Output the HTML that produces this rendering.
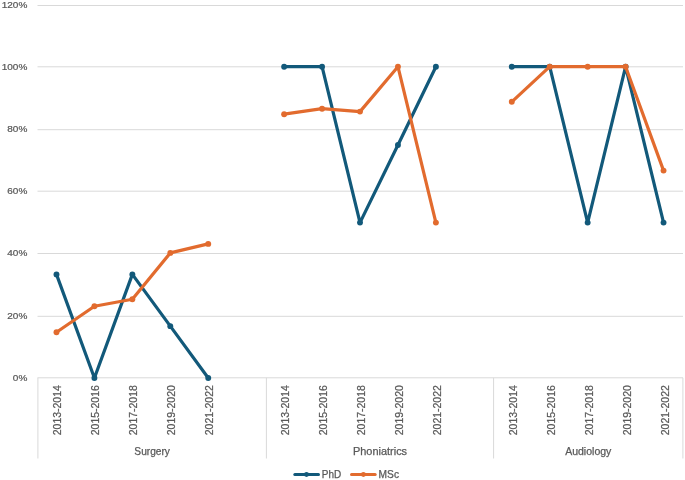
<!DOCTYPE html>
<html><head><meta charset="utf-8"><title>Chart</title>
<style>
html,body{margin:0;padding:0;background:#fff;}
body{width:685px;height:480px;overflow:hidden;}
svg{display:block;filter:blur(0.35px);}
text{font-family:'Liberation Sans', Arial, sans-serif;stroke:#595959;stroke-width:0.25px;}
</style></head><body>
<svg width="685" height="480" viewBox="0 0 685 480">
<rect width="685" height="480" fill="#fff"/>
<line x1="37.5" y1="377.80" x2="683" y2="377.80" stroke="#D9D9D9" stroke-width="1"/>
<line x1="37.5" y1="316.30" x2="683" y2="316.30" stroke="#D9D9D9" stroke-width="1"/>
<line x1="37.5" y1="253.50" x2="683" y2="253.50" stroke="#D9D9D9" stroke-width="1"/>
<line x1="37.5" y1="191.20" x2="683" y2="191.20" stroke="#D9D9D9" stroke-width="1"/>
<line x1="37.5" y1="129.70" x2="683" y2="129.70" stroke="#D9D9D9" stroke-width="1"/>
<line x1="37.5" y1="66.80" x2="683" y2="66.80" stroke="#D9D9D9" stroke-width="1"/>
<line x1="37.5" y1="5.50" x2="683" y2="5.50" stroke="#D9D9D9" stroke-width="1"/>
<line x1="37.90" y1="377.8" x2="37.90" y2="458.5" stroke="#D9D9D9" stroke-width="1"/>
<line x1="266.40" y1="377.8" x2="266.40" y2="458.5" stroke="#D9D9D9" stroke-width="1"/>
<line x1="493.60" y1="377.8" x2="493.60" y2="458.5" stroke="#D9D9D9" stroke-width="1"/>
<line x1="682.90" y1="377.8" x2="682.90" y2="458.5" stroke="#D9D9D9" stroke-width="1"/>
<text transform="translate(27.3,380.69) scale(1,0.92)" text-anchor="end" font-size="10.0" fill="#595959">0%</text>
<text transform="translate(27.3,318.56) scale(1,0.92)" text-anchor="end" font-size="10.0" fill="#595959">20%</text>
<text transform="translate(27.3,256.43) scale(1,0.92)" text-anchor="end" font-size="10.0" fill="#595959">40%</text>
<text transform="translate(27.3,194.29) scale(1,0.92)" text-anchor="end" font-size="10.0" fill="#595959">60%</text>
<text transform="translate(27.3,132.16) scale(1,0.92)" text-anchor="end" font-size="10.0" fill="#595959">80%</text>
<text transform="translate(27.3,70.03) scale(1,0.92)" text-anchor="end" font-size="10.0" fill="#595959">100%</text>
<text transform="translate(27.3,7.90) scale(1,0.92)" text-anchor="end" font-size="10.0" fill="#595959">120%</text>
<text transform="translate(60.77,385.2) rotate(-90) scale(1,0.97)" text-anchor="end" font-size="10.6" fill="#595959" textLength="50.0" lengthAdjust="spacingAndGlyphs">2013-2014</text>
<text transform="translate(98.72,385.2) rotate(-90) scale(1,0.97)" text-anchor="end" font-size="10.6" fill="#595959" textLength="50.0" lengthAdjust="spacingAndGlyphs">2015-2016</text>
<text transform="translate(136.66,385.2) rotate(-90) scale(1,0.97)" text-anchor="end" font-size="10.6" fill="#595959" textLength="50.0" lengthAdjust="spacingAndGlyphs">2017-2018</text>
<text transform="translate(174.60,385.2) rotate(-90) scale(1,0.97)" text-anchor="end" font-size="10.6" fill="#595959" textLength="50.0" lengthAdjust="spacingAndGlyphs">2019-2020</text>
<text transform="translate(212.54,385.2) rotate(-90) scale(1,0.97)" text-anchor="end" font-size="10.6" fill="#595959" textLength="50.0" lengthAdjust="spacingAndGlyphs">2021-2022</text>
<text transform="translate(289.23,385.2) rotate(-90) scale(1,0.97)" text-anchor="end" font-size="10.6" fill="#595959" textLength="50.0" lengthAdjust="spacingAndGlyphs">2013-2014</text>
<text transform="translate(327.17,385.2) rotate(-90) scale(1,0.97)" text-anchor="end" font-size="10.6" fill="#595959" textLength="50.0" lengthAdjust="spacingAndGlyphs">2015-2016</text>
<text transform="translate(365.11,385.2) rotate(-90) scale(1,0.97)" text-anchor="end" font-size="10.6" fill="#595959" textLength="50.0" lengthAdjust="spacingAndGlyphs">2017-2018</text>
<text transform="translate(403.05,385.2) rotate(-90) scale(1,0.97)" text-anchor="end" font-size="10.6" fill="#595959" textLength="50.0" lengthAdjust="spacingAndGlyphs">2019-2020</text>
<text transform="translate(441.00,385.2) rotate(-90) scale(1,0.97)" text-anchor="end" font-size="10.6" fill="#595959" textLength="50.0" lengthAdjust="spacingAndGlyphs">2021-2022</text>
<text transform="translate(516.78,385.2) rotate(-90) scale(1,0.97)" text-anchor="end" font-size="10.6" fill="#595959" textLength="50.0" lengthAdjust="spacingAndGlyphs">2013-2014</text>
<text transform="translate(554.72,385.2) rotate(-90) scale(1,0.97)" text-anchor="end" font-size="10.6" fill="#595959" textLength="50.0" lengthAdjust="spacingAndGlyphs">2015-2016</text>
<text transform="translate(592.66,385.2) rotate(-90) scale(1,0.97)" text-anchor="end" font-size="10.6" fill="#595959" textLength="50.0" lengthAdjust="spacingAndGlyphs">2017-2018</text>
<text transform="translate(630.61,385.2) rotate(-90) scale(1,0.97)" text-anchor="end" font-size="10.6" fill="#595959" textLength="50.0" lengthAdjust="spacingAndGlyphs">2019-2020</text>
<text transform="translate(668.55,385.2) rotate(-90) scale(1,0.97)" text-anchor="end" font-size="10.6" fill="#595959" textLength="50.0" lengthAdjust="spacingAndGlyphs">2021-2022</text>
<text transform="translate(152.15,455.0)" text-anchor="middle" font-size="10.2" fill="#595959" textLength="35.6" lengthAdjust="spacingAndGlyphs">Surgery</text>
<text transform="translate(380.00,455.0)" text-anchor="middle" font-size="10.2" fill="#595959" textLength="54.2" lengthAdjust="spacingAndGlyphs">Phoniatrics</text>
<text transform="translate(588.25,455.0)" text-anchor="middle" font-size="10.2" fill="#595959" textLength="46.2" lengthAdjust="spacingAndGlyphs">Audiology</text>
<polyline points="56.48,274.39 94.42,377.94 132.36,274.39 170.30,326.16 208.24,377.94" fill="none" stroke="#12597a" stroke-width="3.2" stroke-linejoin="round" stroke-linecap="round"/>
<polyline points="284.13,66.70 322.07,66.70 360.01,222.61 397.95,144.95 435.90,66.70" fill="none" stroke="#12597a" stroke-width="3.2" stroke-linejoin="round" stroke-linecap="round"/>
<polyline points="511.78,66.70 549.72,66.70 587.66,222.61 625.61,66.70 663.55,222.61" fill="none" stroke="#12597a" stroke-width="3.2" stroke-linejoin="round" stroke-linecap="round"/>
<circle cx="56.48" cy="274.39" r="2.95" fill="#12597a"/>
<circle cx="94.42" cy="377.94" r="2.95" fill="#12597a"/>
<circle cx="132.36" cy="274.39" r="2.95" fill="#12597a"/>
<circle cx="170.30" cy="326.16" r="2.95" fill="#12597a"/>
<circle cx="208.24" cy="377.94" r="2.95" fill="#12597a"/>
<circle cx="284.13" cy="66.70" r="2.95" fill="#12597a"/>
<circle cx="322.07" cy="66.70" r="2.95" fill="#12597a"/>
<circle cx="360.01" cy="222.61" r="2.95" fill="#12597a"/>
<circle cx="397.95" cy="144.95" r="2.95" fill="#12597a"/>
<circle cx="435.90" cy="66.70" r="2.95" fill="#12597a"/>
<circle cx="511.78" cy="66.70" r="2.95" fill="#12597a"/>
<circle cx="549.72" cy="66.70" r="2.95" fill="#12597a"/>
<circle cx="587.66" cy="222.61" r="2.95" fill="#12597a"/>
<circle cx="625.61" cy="66.70" r="2.95" fill="#12597a"/>
<circle cx="663.55" cy="222.61" r="2.95" fill="#12597a"/>
<polyline points="56.48,332.25 94.42,306.25 132.36,299.25 170.30,252.90 208.24,243.90" fill="none" stroke="#E26B2E" stroke-width="3.2" stroke-linejoin="round" stroke-linecap="round"/>
<polyline points="284.13,114.20 322.07,108.70 360.01,111.60 397.95,66.70 435.90,222.61" fill="none" stroke="#E26B2E" stroke-width="3.2" stroke-linejoin="round" stroke-linecap="round"/>
<polyline points="511.78,101.80 549.72,66.70 587.66,66.70 625.61,66.70 663.55,170.60" fill="none" stroke="#E26B2E" stroke-width="3.2" stroke-linejoin="round" stroke-linecap="round"/>
<circle cx="56.48" cy="332.25" r="2.95" fill="#E26B2E"/>
<circle cx="94.42" cy="306.25" r="2.95" fill="#E26B2E"/>
<circle cx="132.36" cy="299.25" r="2.95" fill="#E26B2E"/>
<circle cx="170.30" cy="252.90" r="2.95" fill="#E26B2E"/>
<circle cx="208.24" cy="243.90" r="2.95" fill="#E26B2E"/>
<circle cx="284.13" cy="114.20" r="2.95" fill="#E26B2E"/>
<circle cx="322.07" cy="108.70" r="2.95" fill="#E26B2E"/>
<circle cx="360.01" cy="111.60" r="2.95" fill="#E26B2E"/>
<circle cx="397.95" cy="66.70" r="2.95" fill="#E26B2E"/>
<circle cx="435.90" cy="222.61" r="2.95" fill="#E26B2E"/>
<circle cx="511.78" cy="101.80" r="2.95" fill="#E26B2E"/>
<circle cx="549.72" cy="66.70" r="2.95" fill="#E26B2E"/>
<circle cx="587.66" cy="66.70" r="2.95" fill="#E26B2E"/>
<circle cx="625.61" cy="66.70" r="2.95" fill="#E26B2E"/>
<circle cx="663.55" cy="170.60" r="2.95" fill="#E26B2E"/>
<line x1="294.8" y1="474.5" x2="318.5" y2="474.5" stroke="#12597a" stroke-width="3" stroke-linecap="round"/>
<circle cx="306.5" cy="474.5" r="2.4" fill="#12597a"/>
<text transform="translate(321.8,477.8)" font-size="10.2" fill="#595959" textLength="19.4" lengthAdjust="spacingAndGlyphs">PhD</text>
<line x1="351.5" y1="474.5" x2="375.2" y2="474.5" stroke="#E26B2E" stroke-width="3" stroke-linecap="round"/>
<circle cx="363.4" cy="474.5" r="2.4" fill="#E26B2E"/>
<text transform="translate(378.6,477.8)" font-size="10.2" fill="#595959" textLength="20.4" lengthAdjust="spacingAndGlyphs">MSc</text>
</svg>
</body></html>
